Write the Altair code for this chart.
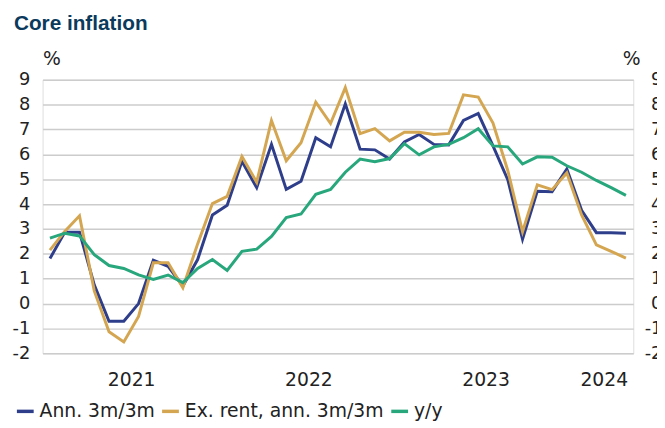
import altair as alt
import pandas as pd

# ---- data (monthly, Jan 2021 .. Apr 2024) ----
months = [f"{y}-{m:02d}" for y in (2021, 2022, 2023) for m in range(1, 13)] + \
         ["2024-01", "2024-02", "2024-03", "2024-04"]

ann_3m3m = [1.81, 2.87, 2.87, 0.75, -0.71, -0.71, 0.00, 1.74, 1.50, 0.71,
            1.77, 3.56, 3.95, 5.72, 4.66, 6.40, 4.59, 4.92, 6.67, 6.30,
            8.03, 6.21, 6.18, 5.81, 6.50, 6.80, 6.40, 6.38, 7.36, 7.64,
            6.34, 4.98, 2.59, 4.52, 4.50, 5.41, 3.75, 2.85, 2.85, 2.83]
ex_rent = [2.15, 2.90, 3.53, 0.51, -1.13, -1.54, -0.52, 1.64, 1.64, 0.64,
           2.40, 4.02, 4.31, 5.91, 4.88, 7.36, 5.74, 6.47, 8.10, 7.24,
           8.68, 6.83, 7.03, 6.54, 6.89, 6.89, 6.80, 6.84, 8.39, 8.30,
           7.26, 5.35, 2.89, 4.77, 4.58, 5.25, 3.56, 2.36, 2.10, 1.83]
yoy = [2.63, 2.83, 2.72, 1.97, 1.53, 1.41, 1.15, 0.97, 1.15, 0.84,
       1.41, 1.77, 1.33, 2.10, 2.19, 2.70, 3.46, 3.60, 4.39, 4.59,
       5.28, 5.81, 5.70, 5.83, 6.43, 5.98, 6.30, 6.40, 6.67, 7.03,
       6.34, 6.30, 5.61, 5.90, 5.88, 5.54, 5.28, 4.95, 4.66, 4.35]

series_names = ["Ann. 3m/3m", "Ex. rent, ann. 3m/3m", "y/y"]
series_colors = ["#2e3e8a", "#d4a651", "#27a77b"]
year_labels = ["2021", "2022", "2023", "2024"]
year_centers = [5.5, 17.5, 29.5, 37.5]
y_ticks = list(range(-2, 10))

rows = []
for name, vals in zip(series_names, [ann_3m3m, ex_rent, yoy]):
    for i, v in enumerate(vals):
        rows.append({"idx": i, "month": months[i], "series": name, "value": v})
df = pd.DataFrame(rows)

label_expr = " : ".join(f"datum.value == {p} ? '{l}'" for p, l in zip(year_centers, year_labels)) + " : ''"

FONT = "DejaVu Sans"
TXT = "#222222"

x_enc = alt.X(
    "idx:Q",
    scale=alt.Scale(domain=[-0.5, len(months) - 0.5], nice=False, zero=False),
    axis=alt.Axis(values=year_centers, labelExpr=label_expr, title=None, grid=False,
                  ticks=False, domain=False, labelFontSize=19, labelPadding=18,
                  labelColor=TXT, labelFont=FONT),
)
y_scale = alt.Scale(domain=[-2, 9], nice=False, zero=False)
color_enc = alt.Color(
    "series:N",
    scale=alt.Scale(domain=series_names, range=series_colors),
    legend=alt.Legend(title=None, orient="none", legendX=-28, legendY=325,
                      direction="horizontal", symbolType="stroke", symbolSize=289,
                      symbolStrokeWidth=3.5, labelFontSize=19, labelFont=FONT,
                      labelColor=TXT, columnPadding=0, labelOffset=4, padding=0,
                      labelLimit=400),
)

y_common = dict(values=y_ticks, labelExpr="toString(datum.value)", title="%",
                titleAngle=0, titleY=-15, titleBaseline="alphabetic",
                titleFontSize=19, titleFontWeight="normal", titleFont=FONT,
                titleColor=TXT, ticks=False, domain=False, labelFontSize=18,
                labelFont=FONT, labelColor=TXT)

left = alt.Chart(df).mark_line(strokeWidth=3).encode(
    x=x_enc,
    y=alt.Y("value:Q", scale=y_scale,
            axis=alt.Axis(orient="left", titleX=0, titleAlign="left",
                          grid=True, gridColor="#cccccc", gridWidth=1.5,
                          labelPadding=13, **y_common)),
    color=color_enc,
    order="idx:Q",
)
right = alt.Chart(df).mark_line(opacity=0).encode(
    x=x_enc,
    y=alt.Y("value:Q", scale=y_scale,
            axis=alt.Axis(orient="right", titleX=7, titleAlign="right",
                          grid=False, labelPadding=29, labelAlign="right",
                          **y_common)),
    color=color_enc,
    order="idx:Q",
)

chart = alt.layer(left, right).resolve_axis(y="independent").properties(
    width=598,
    height=277,
    padding={"left": 35, "top": 70, "right": 24, "bottom": 73},
    autosize=alt.AutoSizeParams(type="none"),
    title=alt.TitleParams("Core inflation", anchor="start", frame="group", dx=-29,
                          font="Liberation Sans", fontSize=21, fontWeight="bold",
                          color="#0b3a5c", offset=16),
).configure_view(stroke=None).configure(background="white")

chart.save("out.html", embed_options={"renderer": "svg", "actions": False})
